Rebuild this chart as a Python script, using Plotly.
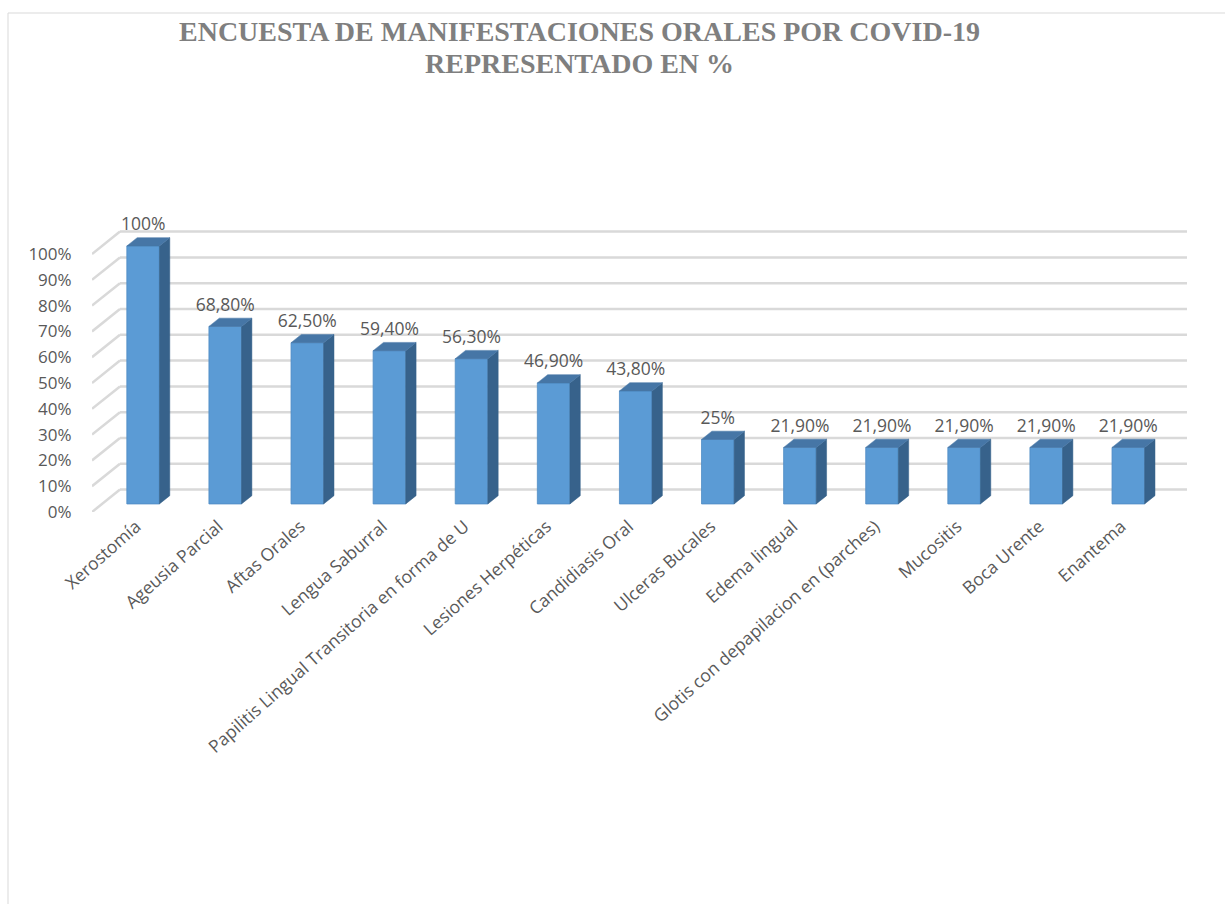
import plotly.graph_objects as go

# ---------------- data ----------------
categories = ["Xerostomía", "Ageusia Parcial", "Aftas Orales", "Lengua Saburral",
              "Papilitis Lingual Transitoria en forma de U", "Lesiones Herpéticas",
              "Candidiasis Oral", "Ulceras Bucales", "Edema lingual",
              "Glotis con depapilacion en (parches)", "Mucositis", "Boca Urente", "Enantema"]
values = [100, 68.8, 62.5, 59.4, 56.3, 46.9, 43.8, 25, 21.9, 21.9, 21.9, 21.9, 21.9]
ytick_vals = [0, 10, 20, 30, 40, 50, 60, 70, 80, 90, 100]
ytick_text = [f"{v}%" for v in ytick_vals]
title_lines = ["ENCUESTA DE MANIFESTACIONES ORALES POR COVID-19", "REPRESENTADO EN %"]
series_name = "%"

def fmt(v):
    if float(v).is_integer():
        return f"{int(v)}%"
    return f"{v:.2f}".replace(".", ",") + "%"

labels = [fmt(v) for v in values]

# ---------------- geometry (pixel-based projection) ----------------
W, H = 1225, 904
ML, MR, MT, MB = 92, 38, 200, 392
plot_w = W - ML - MR
plot_h = H - MT - MB
n = len(categories)
kx = 82.1            # px per category
ky = 2.58            # px per percent
depth_px = (28, 22.4)  # floor depth offset in px
dxu = depth_px[0] / kx
dyu = depth_px[1] / ky
x_lo = -0.5
x_hi = x_lo + plot_w / kx
y_top = plot_h / ky

f = 0.36             # bar front-face depth fraction
g = 0.37             # bar depth fraction
bw = 32.6 / kx       # bar width in units
shift_x = f * dxu
base_y = f * dyu
ddx = g * dxu
ddy = g * dyu

xs = [i + shift_x for i in range(n)]

FRONT = "#5B9BD5"
TOP = "#4676A6"
SIDE = "#37628B"
GRID = "#D9D9D9"
TXT = "#595959"
FONT = "Open Sans"

def py(pix):
    """pixel y (from top) -> paper y"""
    return (H - MB - pix) / plot_h

def px(pix):
    return (pix - ML) / plot_w

fig = go.Figure()

# gridlines (below traces): diagonal left wall + back wall horizontals
for v in ytick_vals:
    fig.add_shape(type="line", xref="x", yref="y", x0=x_lo, y0=v, x1=x_lo + dxu, y1=v + dyu,
                  line=dict(color=GRID, width=2.5), layer="below")
    fig.add_shape(type="line", xref="x", yref="y", x0=x_lo + dxu, y0=v + dyu,
                  x1=n - 0.5 + dxu, y1=v + dyu,
                  line=dict(color=GRID, width=2.5), layer="below")

# front faces
fig.add_trace(go.Bar(x=xs, y=values, base=[base_y] * n, width=bw,
                     marker=dict(color=FRONT, line=dict(color="#4F8BC4", width=0.8)),
                     showlegend=False, name=series_name))

# side faces
sx, sy = [], []
for x, v in zip(xs, values):
    xr = x + bw / 2
    sx += [xr, xr + ddx, xr + ddx, xr, xr, None]
    sy += [base_y, base_y + ddy, base_y + v + ddy, base_y + v, base_y, None]
fig.add_trace(go.Scatter(x=sx, y=sy, mode="lines", fill="toself", fillcolor=SIDE,
                         line=dict(color=SIDE, width=0.5), hoverinfo="skip", showlegend=False))

# top faces
tx, ty = [], []
for x, v in zip(xs, values):
    xl, xr = x - bw / 2, x + bw / 2
    t = base_y + v
    tx += [xl, xr, xr + ddx, xl + ddx, xl, None]
    ty += [t, t, t + ddy, t + ddy, t, None]
fig.add_trace(go.Scatter(x=tx, y=ty, mode="lines", fill="toself", fillcolor=TOP,
                         line=dict(color=TOP, width=0.5), hoverinfo="skip", showlegend=False))

# data labels
fig.add_trace(go.Scatter(x=xs, y=[base_y + v + ddy + 1.2 for v in values], mode="text",
                         text=labels, textposition="top center",
                         textfont=dict(family=FONT, size=17.5, color=TXT),
                         hoverinfo="skip", showlegend=False))

# depth axis label
fig.add_annotation(x=n - 0.5 + dxu, y=base_y, xref="x", yref="y", text=series_name,
                   showarrow=False, xanchor="left", yanchor="middle", xshift=4,
                   font=dict(family=FONT, size=17, color=TXT))

# title (two centered lines)
for txt, cy in zip(title_lines, [32, 63]):
    fig.add_annotation(x=px(579), y=py(cy), xref="paper", yref="paper",
                       text=txt, showarrow=False, xanchor="center", yanchor="middle",
                       font=dict(family="Liberation Serif", size=28, color="#7F7F7F",
                                 weight="bold"))

# chart border
fig.add_shape(type="rect", xref="paper", yref="paper",
              x0=px(8), x1=px(W + 20), y0=py(H + 20), y1=py(13),
              line=dict(color="#D9D9D9", width=1), fillcolor="rgba(0,0,0,0)", layer="below")

fig.update_layout(
    width=W, height=H,
    margin=dict(l=ML, r=MR, t=MT, b=MB, autoexpand=False),
    paper_bgcolor="white", plot_bgcolor="white",
    showlegend=False,
    xaxis=dict(range=[x_lo, x_hi], tickmode="array", tickvals=xs, ticktext=categories,
               tickangle=-41.5, showgrid=False, zeroline=False, showline=False,
               ticks="", ticklabelshift=-7,
               tickfont=dict(family=FONT, size=17.5, color=TXT), fixedrange=True),
    yaxis=dict(range=[0, y_top], tickmode="array", tickvals=ytick_vals, ticktext=ytick_text,
               showgrid=False, zeroline=False, showline=False,
               ticks="outside", ticklen=16, tickcolor="rgba(0,0,0,0)",
               tickfont=dict(family=FONT, size=17, color=TXT), fixedrange=True),
)

fig.write_html("out.html")
